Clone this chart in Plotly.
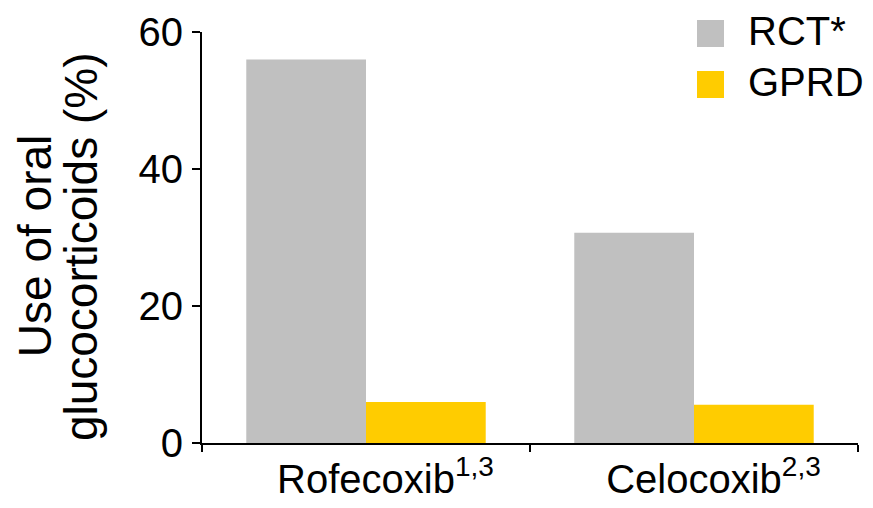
import plotly.graph_objects as go

categories = ["Rofecoxib", "Celocoxib"]
superscripts = ["1,3", "2,3"]
series_names = ["RCT*", "GPRD"]
rct_values = [56.0, 30.7]
gprd_values = [6.0, 5.6]
colors = ["#C0C0C0", "#FFCC00"]
y_ticks = [0, 20, 40, 60]

FONT = "Liberation Sans, Arial, sans-serif"

def label(name, sup):
    return (f"<span style='color:rgba(0,0,0,0)'>"
            f"<sup style='font-size:25px'>{sup}</sup></span>"
            f"{name}<sup style='font-size:25px'>{sup}</sup>")

tick_labels = [label(c, s) for c, s in zip(categories, superscripts)]

fig = go.Figure()
for name, vals, col in zip(series_names, [rct_values, gprd_values], colors):
    fig.add_trace(go.Bar(x=tick_labels, y=vals, name=name, showlegend=False,
                         marker=dict(color=col, line=dict(width=0))))

# legend drawn as swatches + text (larger swatches than plotly's native legend)
shapes = []
annotations = []
legend_rows_y = [(0.9635, 1.0292), (0.8394, 0.9051)]
for (y0, y1), name, col in zip(legend_rows_y, series_names, colors):
    shapes.append(dict(type="rect", xref="paper", yref="paper",
                       x0=0.7546, x1=0.7957, y0=y0, y1=y1,
                       fillcolor=col, line=dict(width=0), layer="above"))
    annotations.append(dict(text=name, xref="paper", yref="paper",
                            x=0.8293, y=(y0 + y1) / 2 + 0.005, xanchor="left",
                            yanchor="middle", showarrow=False,
                            font=dict(size=40)))

annotations += [
    dict(text="Use of oral", xref="paper", yref="paper",
         x=-0.2545, y=0.479, xanchor="center", yanchor="middle",
         textangle=-90, showarrow=False, font=dict(size=46)),
    dict(text="glucocorticoids (%)", xref="paper", yref="paper",
         x=-0.1845, y=0.479, xanchor="center", yanchor="middle",
         textangle=-90, showarrow=False, font=dict(size=46)),
]

fig.update_layout(
    width=873, height=508,
    margin=dict(l=202, r=15, t=32, b=65, autoexpand=False),
    paper_bgcolor="white", plot_bgcolor="white",
    barmode="group", bargap=0.27, bargroupgap=0,
    font=dict(family=FONT, size=40, color="black"),
    showlegend=False,
    xaxis=dict(showline=True, linecolor="black", linewidth=2,
               ticks="outside", tickson="boundaries", ticklen=7,
               tickwidth=2, tickcolor="black", showgrid=False,
               range=[-0.5, 1.5], tickfont=dict(size=40), automargin=False),
    yaxis=dict(showline=True, linecolor="black", linewidth=2,
               ticks="outside", ticklen=8, tickwidth=2, tickcolor="black",
               range=[0, 60], tickvals=y_ticks, showgrid=False,
               zeroline=False, tickfont=dict(size=40), automargin=False,
               ticklabelstandoff=1),
    shapes=shapes,
    annotations=annotations,
)

fig.write_html("out.html",
               config={"displayModeBar": False},
               post_script="document.body.style.margin='0';"
                           "document.body.style.overflow='hidden';")
